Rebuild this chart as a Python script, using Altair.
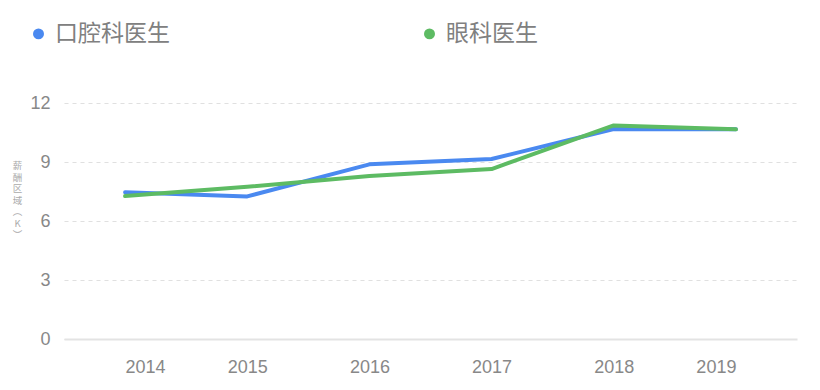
import altair as alt
import pandas as pd

years = ["2014", "2015", "2016", "2017", "2018", "2019"]
series_names = ["口腔科医生", "眼科医生"]
dental = [7.46, 7.25, 8.88, 9.15, 10.68, 10.67]
eye = [7.27, 7.74, 8.29, 8.64, 10.86, 10.66]
y_ticks = [0, 3, 6, 9, 12]
y_title = ["薪", "酬", "区", "域", "︵", "K", "︶"]
colors = ["#4A89F0", "#5DBB63"]

rows = []
for name, vals in zip(series_names, [dental, eye]):
    for yr, v in zip(years, vals):
        rows.append({"year": yr, "series": name, "value": v})
df = pd.DataFrame(rows)

chart = alt.Chart(df).mark_line(strokeWidth=4, strokeJoin="round", strokeCap="round").encode(
    x=alt.X("year:O", sort=years,
            scale=alt.Scale(type="point", padding=0.5),
            axis=alt.Axis(title=None, labelAngle=0, ticks=False, grid=False,
                          domain=True, domainColor="#e3e3e3", domainWidth=2,
                          labelFontSize=18, labelColor="#888888", labelFont="Liberation Sans",
                          labelPadding=19,
                          labelAlign=alt.ExprRef("datum.index === 0 ? 'left' : (datum.index === 1 ? 'right' : 'center')"))),
    y=alt.Y("value:Q", scale=alt.Scale(domain=[0, 12], nice=False, zero=True),
            axis=alt.Axis(values=y_ticks, title=y_title, titleAngle=0.001, titleFontSize=9.5,
                          titleFont="Noto Sans CJK SC", titleFontWeight="normal",
                          titleColor="#aaaaaa", titleLineHeight=11.5, titleAlign="center",
                          titleBaseline="middle", titleX=-47, titleY=63,
                          ticks=False, domain=False, labelPadding=14,
                          labelFontSize=18, labelColor="#888888", labelFont="Liberation Sans",
                          grid=True, gridColor="#e0e0e0", gridDash=[4, 4], gridWidth=1.2)),
    color=alt.Color("series:N", sort=series_names,
                    scale=alt.Scale(domain=series_names, range=colors),
                    legend=alt.Legend(title=None, orient="none", legendX=-37, legendY=-81,
                                      direction="horizontal", symbolType="circle",
                                      symbolSize=30, symbolStrokeWidth=5.5,
                                      labelFontSize=23,
                                      labelFont="Noto Sans CJK SC", labelColor="#808080",
                                      labelOffset=5, columnPadding=245, labelLimit=300)),
    order=alt.Order("series:N"),
).properties(
    width=733, height=236,
    autosize=alt.AutoSizeParams(type="none"),
    padding={"left": 56, "top": 95, "right": 15, "bottom": 40},
).configure_view(stroke=None).configure_legend(symbolOpacity=1)

chart.save("out.html", embed_options={"renderer": "svg", "actions": False})
